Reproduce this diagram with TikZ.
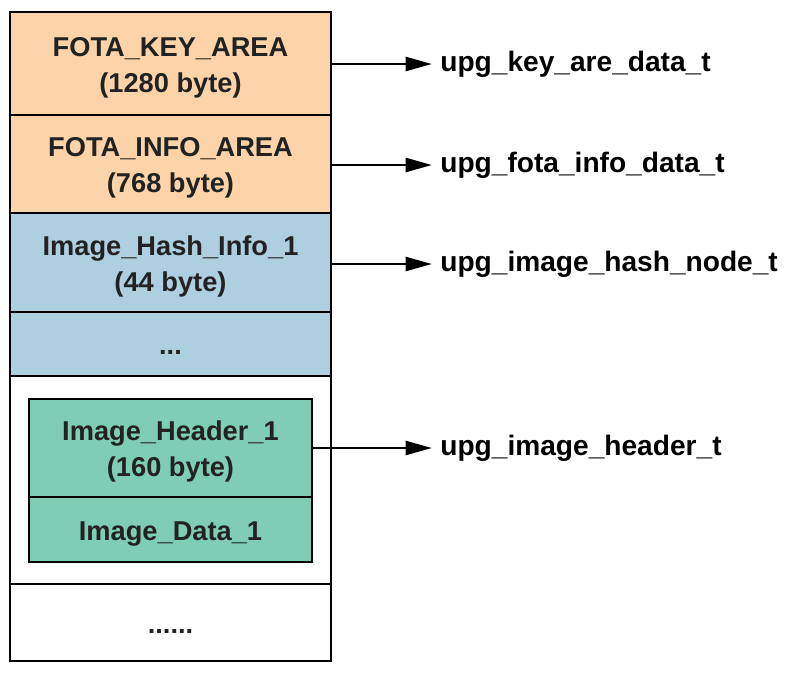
\documentclass[tikz,border=0pt]{standalone}
\usepackage{fontspec}
\setmainfont{Liberation Sans}
\usetikzlibrary{arrows.meta,positioning}

\definecolor{keypeach}{HTML}{FDD4A9}
\definecolor{hashblue}{HTML}{AECFDF}
\definecolor{imggreen}{HTML}{7FCDB4}
\definecolor{boxtext}{HTML}{222222}

\newcommand{\cellstrut}{\rule[-6pt]{0pt}{24.4pt}}

\tikzset{
  area/.style={draw, line width=1.6pt, rectangle, minimum width=6.42cm, align=center,
    text=boxtext, font=\fontsize{15.5}{20.5}\selectfont\bfseries, inner sep=0pt},
  inner area/.style={area, minimum width=5.66cm},
  typename/.style={anchor=west, inner xsep=0.16cm, inner ysep=0pt,
    font=\fontsize{16}{19}\selectfont\bfseries},
  pointer/.style={-{Triangle[length=5.3mm, width=2.8mm]}, line width=1.6pt}
}

\begin{document}
\begin{tikzpicture}
    \useasboundingbox (0,0) rectangle (16.06,-13.5);
    % memory column
    \node[area, fill=keypeach, minimum height=2.06cm] (keyarea) at (3.41,-1.27) {\cellstrut FOTA\_KEY\_AREA\\\strut(1280 byte)};
    \node[area, fill=keypeach, minimum height=1.96cm] (infoarea) at (3.41,-3.28) {\cellstrut FOTA\_INFO\_AREA\\\strut(768 byte)};
    \node[area, fill=hashblue, minimum height=1.98cm] (hashinfo) at (3.41,-5.25) {\cellstrut Image\_Hash\_Info\_1\\\strut(44 byte)};
    \node[area, fill=hashblue, minimum height=1.28cm] (hashmore) at (3.41,-6.88) {\cellstrut...};
    \node[area, fill=white, minimum height=4.16cm] (imgslot) at (3.41,-9.6) {};
    \node[area, fill=white, minimum height=1.54cm] (tailmore) at (3.41,-12.45) {\cellstrut......};
    % image inside the slot
    \node[inner area, fill=imggreen, minimum height=1.96cm] (imgheader) at (3.41,-8.96) {\cellstrut Image\_Header\_1\\\strut(160 byte)};
    \node[inner area, fill=imggreen, minimum height=1.3cm] (imgdata) at (3.41,-10.59) {\cellstrut Image\_Data\_1};
    % struct names
    \node[typename] (keytype) at (8.64,-1.28) {upg\_key\_are\_data\_t};
    \node[typename] (infotype) at (8.64,-3.3) {upg\_fota\_info\_data\_t};
    \node[typename] (hashtype) at (8.64,-5.28) {upg\_image\_hash\_node\_t};
    \node[typename] (headertype) at (8.64,-8.96) {upg\_image\_header\_t};
    \draw[pointer] (keyarea.east |- keytype.west) -- (keytype.west);
    \draw[pointer] (infoarea.east |- infotype.west) -- (infotype.west);
    \draw[pointer] (hashinfo.east |- hashtype.west) -- (hashtype.west);
    \draw[pointer] (imgheader.east) -- (headertype.west);
\end{tikzpicture}
\end{document}
